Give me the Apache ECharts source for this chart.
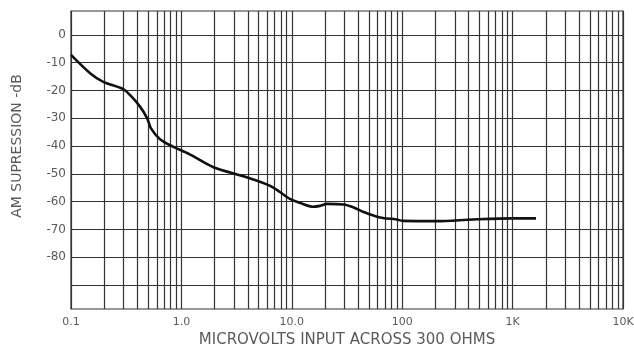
<!DOCTYPE html>
<html>
<head>
<meta charset="utf-8">
<script src="https://cdn.jsdelivr.net/npm/echarts@6/dist/echarts.min.js"></script>
<style>
  html, body { margin: 0; padding: 0; background: #fff; }
  #chart { width: 634px; height: 350px; }
</style>
</head>
<body>
<div id="chart"></div>
<script>
// input level (microvolts) and AM suppression (dB)
var inputUv = [0.1, 0.149, 0.194, 0.297, 0.342, 0.422, 0.49, 0.53, 0.64, 0.84, 1.17, 1.95, 3.9, 6.3, 7.8, 9.6, 12, 15.6, 18, 20.9, 29.3, 36, 44.6, 63, 89, 101, 207, 438, 1009, 1630];
var suppressionDb = [-7.2, -13.8, -16.8, -19.5, -21.6, -25.8, -30, -33.6, -37.5, -40.2, -42.8, -47.6, -51.2, -54.2, -56.5, -59, -60.5, -61.8, -61.5, -60.8, -61, -62, -63.7, -65.7, -66.4, -66.9, -67, -66.4, -66, -66];

var decades = [0.1, 1, 10, 100, 1000, 10000];
var decadeLabels = ['0.1', '1.0', '10.0', '100', '1K', '10K'];
var yLines = [0, -10, -20, -30, -40, -50, -60, -70, -80, -90];
var yLabels = [0, -10, -20, -30, -40, -50, -60, -70, -80];

// log paper lines: 1..9 in every decade
var xLines = [];
for (var d = 0; d < decades.length - 1; d++) {
    for (var k = 1; k < 10; k++) {
        xLines.push(+(decades[d] * k).toPrecision(3));
    }
}
xLines.push(10000);

var pts = inputUv.map(function (v, i) { return [v, suppressionDb[i]]; });

var chart = echarts.init(document.getElementById('chart'));
var txt = '#5a5a5a';
var line = '#333333';

chart.setOption({
    backgroundColor: '#ffffff',
    animation: false,
    grid: {
        left: 71, right: 11, top: 11, bottom: 41,
        outerBoundsMode: 'none',
        containLabel: false,
        show: true, borderColor: line, borderWidth: 1.2
    },
    xAxis: {
        type: 'log',
        logBase: 10,
        min: 0.1,
        max: 10000,
        name: 'MICROVOLTS INPUT ACROSS 300 OHMS',
        nameLocation: 'middle',
        nameGap: 23,
        nameTextStyle: { color: txt, fontSize: 15, fontFamily: 'DejaVu Sans' },
        axisLine: { show: false },
        axisTick: { show: false, customValues: xLines },
        splitLine: { show: true, lineStyle: { color: line, width: 1.2 } },
        axisLabel: {
            customValues: decades,
            color: txt, fontSize: 11, fontFamily: 'DejaVu Sans', margin: 8,
            formatter: function (v) {
                var i = decades.findIndex(function (d) { return Math.abs(d - v) / d < 1e-6; });
                return i >= 0 ? decadeLabels[i] : '';
            }
        }
    },
    yAxis: {
        type: 'value',
        min: -98.6,
        max: 8.6,
        axisLine: { show: false },
        axisTick: { show: false, customValues: yLines },
        splitLine: { show: true, lineStyle: { color: line, width: 1.2 } },
        axisLabel: {
            customValues: yLabels,
            color: txt, fontSize: 12, fontFamily: 'DejaVu Sans', margin: 5
        }
    },
    graphic: [{
        type: 'text',
        x: 17, y: 146,
        rotation: Math.PI / 2,
        style: {
            text: 'AM SUPRESSION -dB',
            fill: txt, fontSize: 14, fontFamily: 'DejaVu Sans',
            align: 'center', verticalAlign: 'middle'
        }
    }],
    series: [{
        type: 'line',
        data: pts,
        showSymbol: false,
        smooth: 0.3,
        lineStyle: { color: '#111', width: 2.6 }
    }]
});
</script>
</body>
</html>
